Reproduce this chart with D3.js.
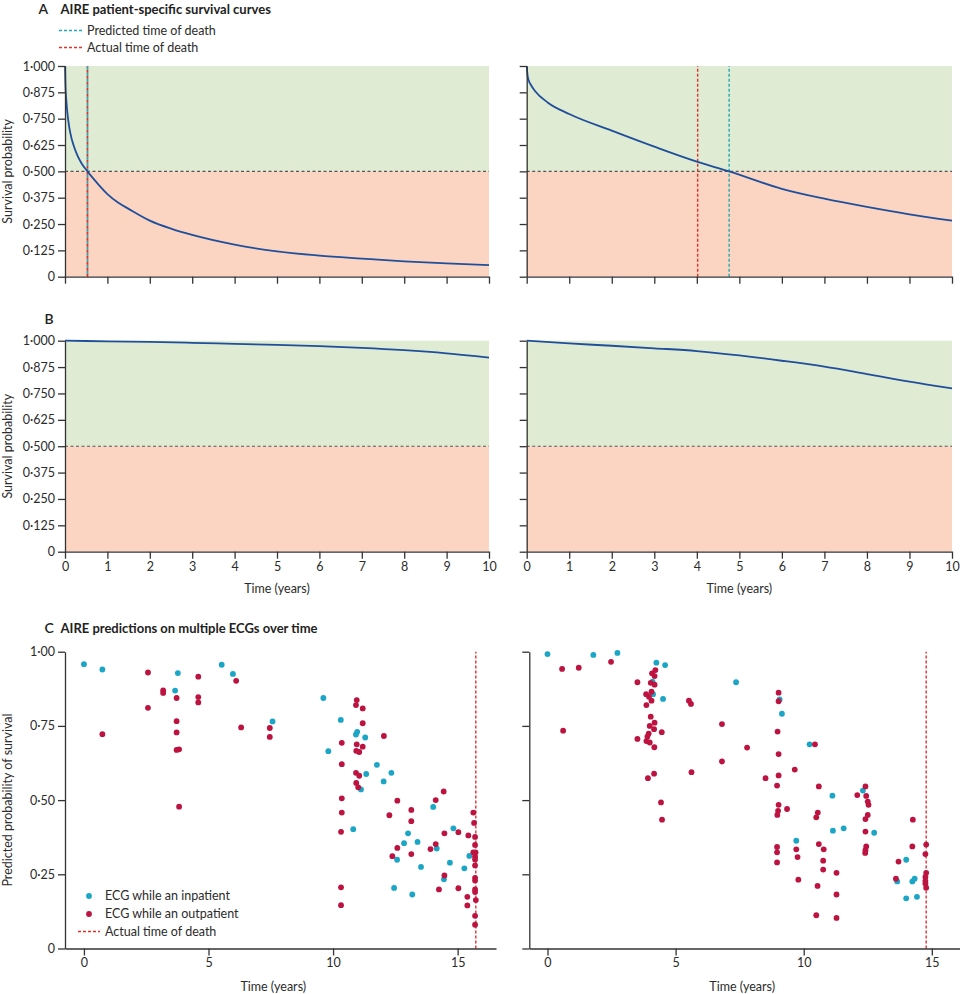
<!DOCTYPE html>
<html><head><meta charset="utf-8">
<script src="https://cdn.jsdelivr.net/npm/d3@7/dist/d3.min.js"></script>
<style>
body{margin:0;background:#fff;}
svg{display:block;font-family:Lato,"Open Sans",sans-serif;}
</style></head>
<body><svg id="c" width="960" height="994"></svg>
<script>
// ---------- DATA ----------
const survTicks = [0,0.125,0.25,0.375,0.5,0.625,0.75,0.875,1];
const timeTicks = [0,1,2,3,4,5,6,7,8,9,10];
const predTicks = [0,0.25,0.5,0.75,1];
const predTimeTicks = [0,5,10,15];

const curveA1T = [0,0.01,0.03,0.06,0.1,0.15,0.2,0.3,0.4,0.53,0.65,0.8,1,1.25,1.5,2,2.5,3,4,5,6,7,8,9,10];
const curveA1S = [1,0.91,0.84,0.77,0.71,0.66,0.625,0.572,0.535,0.50,0.47,0.435,0.392,0.352,0.322,0.266,0.228,0.198,0.152,0.12,0.100,0.086,0.073,0.063,0.055];
const curveA2T = [0,0.02,0.05,0.1,0.2,0.5,1,2,3,4,4.76,6,7,8,9,10];
const curveA2S = [1,0.955,0.93,0.91,0.88,0.826,0.772,0.693,0.617,0.546,0.50,0.417,0.37,0.331,0.296,0.266];
const curveB1T = [0,1,2,3,4,5,6,7,8,9,10];
const curveB1S = [1,0.997,0.994,0.990,0.985,0.980,0.974,0.966,0.955,0.940,0.920];
const curveB2T = [0,1,2,3,4,5,6,7,8,9,10];
const curveB2S = [1,0.987,0.976,0.964,0.951,0.930,0.905,0.877,0.842,0.806,0.774];

const predictedDeathA = [0.53, 4.76];
const actualDeathA = [0.53, 4.02];
const actualDeathC = [15.73, 14.78];

const leftInpatient = [[0,0.958],[0.74,0.940],[3.66,0.869],[3.77,0.928],[5.53,0.956],[5.98,0.925],[7.57,0.765],[9.61,0.844],[9.81,0.665],[10.31,0.770],[10.97,0.730],[10.92,0.721],[11.29,0.711],[10.81,0.402],[11.33,0.588],[11.12,0.536],[11.76,0.619],[12.03,0.563],[12.34,0.592],[12.45,0.204],[12.57,0.299],[12.85,0.355],[13.01,0.388],[13.18,0.182],[13.39,0.359],[13.53,0.275],[14.02,0.477],[14.16,0.337],[14.45,0.233],[14.69,0.289],[14.83,0.405],[15.27,0.270],[15.47,0.312]];
const leftOutpatient = [[0.74,0.722],[2.57,0.930],[2.57,0.811],[3.18,0.870],[3.18,0.861],[3.72,0.844],[3.72,0.766],[3.72,0.728],[3.72,0.669],[3.82,0.671],[3.82,0.478],[4.59,0.916],[4.59,0.847],[4.59,0.829],[6.11,0.902],[6.31,0.745],[7.46,0.743],[7.46,0.713],[10.35,0.693],[10.35,0.621],[10.35,0.506],[10.35,0.458],[10.32,0.393],[10.32,0.206],[10.32,0.146],[10.95,0.837],[10.92,0.820],[11.19,0.809],[11.19,0.759],[10.95,0.688],[11.19,0.680],[10.93,0.666],[11.05,0.662],[10.92,0.592],[11.05,0.582],[10.93,0.558],[11.01,0.543],[12.04,0.716],[12.26,0.449],[12.58,0.498],[12.38,0.311],[12.58,0.339],[13.14,0.467],[13.14,0.429],[13.14,0.318],[13.91,0.335],[14.12,0.352],[14.12,0.500],[14.25,0.199],[14.44,0.529],[14.47,0.388],[14.47,0.246],[15.03,0.392],[15.03,0.203],[15.43,0.381],[15.39,0.174],[15.39,0.145],[15.63,0.458],[15.66,0.423],[15.63,0.324],[15.70,0.376],[15.70,0.349],[15.72,0.324],[15.70,0.310],[15.70,0.300],[15.70,0.280],[15.70,0.238],[15.70,0.229],[15.70,0.199],[15.70,0.190],[15.73,0.163],[15.70,0.110],[15.70,0.080]];
const rightInpatient = [[0,0.992],[1.79,0.989],[2.73,0.996],[4.25,0.963],[4.59,0.955],[4.10,0.899],[4.12,0.857],[4.51,0.841],[7.36,0.897],[9.06,0.839],[9.15,0.791],[10.23,0.688],[9.71,0.363],[11.12,0.515],[11.14,0.397],[11.56,0.405],[12.31,0.532],[12.75,0.390],[13.65,0.226],[14.0,0.299],[14.0,0.169],[14.24,0.226],[14.33,0.235],[14.42,0.174]];
const rightOutpatient = [[0.57,0.942],[1.22,0.946],[2.48,0.966],[0.61,0.734],[3.51,0.897],[3.51,0.706],[4.21,0.938],[4.08,0.927],[4.18,0.918],[4.03,0.895],[4.18,0.889],[4.06,0.865],[3.85,0.857],[3.96,0.848],[4.06,0.835],[3.86,0.820],[4.03,0.781],[4.18,0.761],[3.99,0.750],[4.16,0.739],[4.46,0.729],[3.95,0.724],[3.90,0.714],[3.86,0.699],[3.99,0.694],[4.17,0.678],[4.16,0.589],[3.92,0.574],[4.43,0.492],[4.47,0.434],[5.52,0.835],[5.60,0.824],[5.62,0.594],[6.81,0.756],[6.81,0.630],[7.79,0.677],[8.51,0.574],[9.02,0.862],[9.02,0.833],[8.98,0.731],[9.02,0.655],[9.02,0.583],[8.96,0.549],[9.02,0.484],[9.0,0.464],[8.97,0.450],[9.35,0.470],[8.96,0.342],[8.96,0.324],[8.96,0.290],[9.65,0.603],[9.71,0.334],[9.76,0.308],[9.79,0.232],[10.44,0.688],[10.59,0.546],[10.55,0.458],[10.49,0.442],[10.59,0.352],[10.78,0.334],[10.76,0.296],[10.76,0.266],[10.54,0.211],[10.49,0.112],[11.28,0.255],[11.28,0.182],[11.28,0.103],[12.09,0.517],[12.41,0.546],[12.44,0.514],[12.50,0.495],[12.53,0.484],[12.50,0.450],[12.41,0.436],[12.41,0.394],[12.44,0.344],[12.41,0.331],[12.40,0.322],[13.60,0.235],[13.70,0.293],[14.26,0.434],[14.24,0.344],[14.78,0.350],[14.75,0.318],[14.78,0.255],[14.75,0.241],[14.75,0.228],[14.75,0.219],[14.78,0.205]];

// ---------- STYLE ----------
const C = {green:"#dfebd2", orange:"#fbd5c2", curve:"#1f4f9b", axis:"#333", text:"#2b2b2b",
  teal:"#22a9b3", red:"#e0302e", inpat:"#1ba6c6", outpat:"#bd1340", thr:"#555"};
const FS = 12.5;
const svg = d3.select("#c");
function dotFmt(dec){ return d => d===0 ? "0" : d.toFixed(dec).replace(".", "\u00b7"); }

function styleAxis(g){
  g.selectAll("path.domain").attr("stroke",C.axis).attr("stroke-width",1.3);
  g.selectAll(".tick line").attr("stroke",C.axis).attr("stroke-width",1.3);
  g.selectAll(".tick text").attr("fill",C.text).attr("font-size",FS).attr("font-family","Lato,'Open Sans',sans-serif");
}

function survPanel(x0,x1,yTop,yBot,T,S,opts){
  const x = d3.scaleLinear().domain([0,10]).range([x0,x1]);
  const y = d3.scaleLinear().domain([0,1]).range([yBot,yTop]);
  const g = svg.append("g");
  g.append("rect").attr("x",x(0)).attr("y",y(1)).attr("width",x(10)-x(0)).attr("height",y(0.5)-y(1)).attr("fill",C.green);
  g.append("rect").attr("x",x(0)).attr("y",y(0.5)).attr("width",x(10)-x(0)).attr("height",y(0)-y(0.5)).attr("fill",C.orange);
  g.append("line").attr("x1",x(0)).attr("x2",x(10)).attr("y1",y(0.5)).attr("y2",y(0.5))
    .attr("stroke",C.thr).attr("stroke-width",1.1).attr("stroke-dasharray","3,2.5");
  if(opts.actual!=null){
    const same = opts.actual===opts.pred;
    g.append("line").attr("x1",x(opts.actual)).attr("x2",x(opts.actual)).attr("y1",y(0)).attr("y2",y(1))
      .attr("stroke",C.red).attr("stroke-width",same?1.8:1.4).attr("stroke-dasharray",same?"3,3":"3,2");
    g.append("line").attr("x1",x(opts.pred)).attr("x2",x(opts.pred)).attr("y1",y(0)).attr("y2",y(1))
      .attr("stroke",C.teal).attr("stroke-width",same?1.8:1.4).attr("stroke-dasharray",same?"3,3":"3,2")
      .attr("stroke-dashoffset", same ? 3 : 0);
  }
  const data = T.map((t,i)=>[t,S[i]]);
  g.append("path").datum(data).attr("fill","none").attr("stroke",C.curve).attr("stroke-width",1.8)
    .attr("d", d3.line().x(d=>x(d[0])).y(d=>y(d[1])).curve(d3.curveMonotoneX));
  const ya = g.append("g").attr("transform",`translate(${x(0)},0)`)
    .call(d3.axisLeft(y).tickValues(survTicks).tickSize(7).tickSizeOuter(0).tickPadding(3)
      .tickFormat(opts.yLabels ? dotFmt(3) : ""));
  styleAxis(ya);
  const xa = g.append("g").attr("transform",`translate(0,${y(0)})`)
    .call(d3.axisBottom(x).tickValues(timeTicks).tickSize(7).tickSizeOuter(0).tickPadding(3)
      .tickFormat(opts.xLabels ? d3.format("d") : ""));
  styleAxis(xa);
  if(opts.xLabels){
    g.append("text").attr("x",(x0+x1)/2).attr("y",yBot+41).attr("text-anchor","middle")
      .attr("font-size",FS).attr("fill",C.text).text("Time (years)");
  }
  if(opts.yLabels){
    g.append("text").attr("transform",`translate(12,${(yTop+yBot)/2}) rotate(-90)`).attr("text-anchor","middle")
      .attr("font-size",FS).attr("fill",C.text).text("Survival probability");
  }
}

survPanel(65,489,66,276.7,curveA1T,curveA1S,{yLabels:true,xLabels:false,actual:actualDeathA[0],pred:predictedDeathA[0]});
survPanel(526.7,952,66,276.7,curveA2T,curveA2S,{yLabels:false,xLabels:false,actual:actualDeathA[1],pred:predictedDeathA[1]});
survPanel(65,489,340.7,551.7,curveB1T,curveB1S,{yLabels:true,xLabels:true});
survPanel(526.7,952,340.7,551.7,curveB2T,curveB2S,{yLabels:false,xLabels:true});

// Panel headings
function heading(letter,x,y,title){
  svg.append("text").attr("x",x).attr("y",y).attr("font-size",14).attr("font-weight",600).attr("fill","#222").text(letter);
  if(title) svg.append("text").attr("x",60.5).attr("y",y).attr("font-size",13).attr("font-weight","bold").attr("fill","#222").text(title);
}
heading("A",38.5,14,"AIRE patient-specific survival curves");
heading("B",44.5,323.5,null);
heading("C",44.5,632.5,"AIRE predictions on multiple ECGs over time");

// Legend A
[["Predicted time of death",C.teal,30.5],["Actual time of death",C.red,47.5]].forEach(([t,c,yy])=>{
  svg.append("line").attr("x1",59).attr("x2",82).attr("y1",yy).attr("y2",yy).attr("stroke",c).attr("stroke-width",1.4).attr("stroke-dasharray","3,2");
  svg.append("text").attr("x",87).attr("y",yy+4.2).attr("font-size",FS).attr("fill",C.text).text(t);
});

// ---------- Panel C ----------
function scatterPanel(xr,dom,inpat,outpat,death,yLabels){
  const x = d3.scaleLinear().domain(dom).range(xr);
  const y = d3.scaleLinear().domain([0,1]).range([948.5,651.7]);
  const g = svg.append("g");
  g.append("line").attr("x1",x(death)).attr("x2",x(death)).attr("y1",y(0)).attr("y2",y(1))
    .attr("stroke",C.red).attr("stroke-width",1.4).attr("stroke-dasharray","3,2");
  g.selectAll("circle.in").data(inpat).join("circle").attr("cx",d=>x(d[0])).attr("cy",d=>y(d[1])).attr("r",2.9).attr("fill",C.inpat);
  g.selectAll("circle.out").data(outpat).join("circle").attr("cx",d=>x(d[0])).attr("cy",d=>y(d[1])).attr("r",2.9).attr("fill",C.outpat);
  const ya = g.append("g").attr("transform",`translate(${xr[0]},0)`)
    .call(d3.axisLeft(y).tickValues(predTicks).tickSize(7).tickSizeOuter(0).tickPadding(3)
      .tickFormat(yLabels ? dotFmt(2) : ""));
  styleAxis(ya);
  const xa = g.append("g").attr("transform",`translate(0,${y(0)})`)
    .call(d3.axisBottom(x).tickValues(predTimeTicks).tickSize(7).tickSizeOuter(0).tickPadding(3).tickFormat(d3.format("d")));
  styleAxis(xa);
  g.append("text").attr("x",x(7.6)).attr("y",991).attr("text-anchor","middle")
    .attr("font-size",FS).attr("fill",C.text).text("Time (years)");
  if(yLabels){
    g.append("text").attr("transform",`translate(12,800) rotate(-90)`).attr("text-anchor","middle")
      .attr("font-size",FS).attr("fill",C.text).text("Predicted probability of survival");
  }
}
scatterPanel([65,496],[-0.76,16.54],leftInpatient,leftOutpatient,actualDeathC[0],true);
scatterPanel([529.3,960],[-0.71,16.1],rightInpatient,rightOutpatient,actualDeathC[1],false);

// Legend C
svg.append("circle").attr("cx",89).attr("cy",896).attr("r",2.9).attr("fill",C.inpat);
svg.append("text").attr("x",105).attr("y",900.3).attr("font-size",FS).attr("fill",C.text).text("ECG while an inpatient");
svg.append("circle").attr("cx",89).attr("cy",914).attr("r",2.9).attr("fill",C.outpat);
svg.append("text").attr("x",105).attr("y",918.3).attr("font-size",FS).attr("fill",C.text).text("ECG while an outpatient");
svg.append("line").attr("x1",78).attr("x2",100).attr("y1",931.5).attr("y2",931.5).attr("stroke",C.red).attr("stroke-width",1.4).attr("stroke-dasharray","3,2");
svg.append("text").attr("x",105).attr("y",935.8).attr("font-size",FS).attr("fill",C.text).text("Actual time of death");
</script></body></html>
